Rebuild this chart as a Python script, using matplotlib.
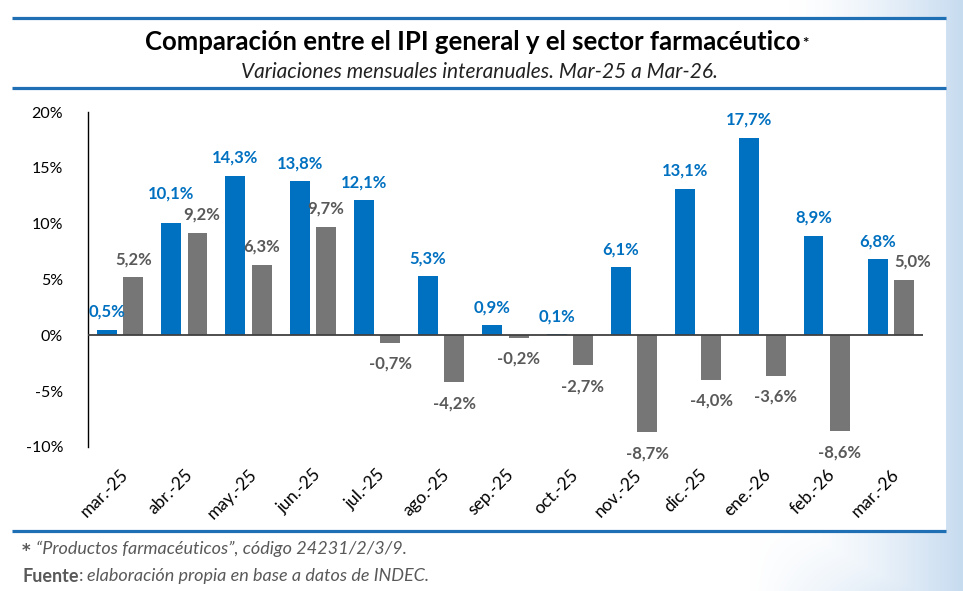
import numpy as np
import matplotlib
matplotlib.use("Agg")
from matplotlib import pyplot as plt
from matplotlib.patches import Rectangle

plt.rcParams['font.family'] = ['Lato', 'DejaVu Sans']

# Datos
meses = ["mar.-25", "abr.-25", "may.-25", "jun.-25", "jul.-25", "ago.-25", "sep.-25",
         "oct.-25", "nov.-25", "dic.-25", "ene.-26", "feb.-26", "mar.-26"]
serie_azul = [0.5, 10.1, 14.3, 13.8, 12.1, 5.3, 0.9, 0.1, 6.1, 13.1, 17.7, 8.9, 6.8]
serie_gris = [5.2, 9.2, 6.3, 9.7, -0.7, -4.2, -0.2, -2.7, -8.7, -4.0, -3.6, -8.6, 5.0]
yticks = [-10, -5, 0, 5, 10, 15, 20]

azul = "#0070C0"
gris = "#767676"
gris_txt = "#595959"
linea = "#1F6FB5"

W, H = 963, 591
fig = plt.figure(figsize=(W / 100, H / 100), dpi=100)

# fondo con tono celeste a la derecha
bg = fig.add_axes([0, 0, 1, 1], zorder=-10)
bg.set_axis_off()
xx = np.linspace(0, 1, 300)
yy = np.linspace(0, 1, 200)
X, Y = np.meshgrid(xx, yy)
t = np.clip((X - 0.82) / 0.18, 0, 1) ** 1.5
t = np.maximum(t, np.clip((X - 0.78) / 0.22, 0, 1) * np.clip((0.12 - Y) / 0.12, 0, 1) * 0.8)
c0 = np.array([1.0, 1.0, 1.0])
c1 = np.array([0.78, 0.86, 0.94])
img = c0 + (c1 - c0) * t[..., None]
bg.imshow(img, extent=[0, 1, 0, 1], origin="lower", aspect="auto")
bg.set_xlim(0, 1)
bg.set_ylim(0, 1)

def fx(px):
    return px / W

def fy(py):
    return 1 - py / H

# panel blanco y líneas
bg.add_patch(Rectangle((fx(12), fy(531)), fx(946) - fx(12), fy(18) - fy(531),
                       facecolor="white", edgecolor="none", zorder=2))
for py in (18, 88, 531):
    bg.plot([fx(12), fx(946)], [fy(py), fy(py)], color=linea, lw=2.3, zorder=3,
            solid_capstyle="butt")

# títulos
titulo = fig.text(fx(473), fy(42), "Comparación entre el IPI general y el sector farmacéutico",
                  ha="center", va="center", fontsize=18.5, fontweight="bold", color="black")
fig.text(fx(479), fy(72), "Variaciones mensuales interanuales. Mar-25 a Mar-26.",
         ha="center", va="center", fontsize=15, style="italic", color="#222222")
fig.canvas.draw()
tb = titulo.get_window_extent()
fig.text(tb.x1 / W + fx(2), fy(44), "*", ha="left", va="center", fontsize=11,
         fontweight="bold", color="black")

# gráfico
ax = fig.add_axes([fx(88), fy(447), fx(923) - fx(88), fy(112) - fy(447)])
ax.set_facecolor("none")
x = np.arange(len(meses))
ancho = 0.31
desp = 0.205
ax.bar(x - desp, serie_azul, width=ancho, color=azul, zorder=2)
ax.bar(x + desp, serie_gris, width=ancho, color=gris, zorder=2)
ax.axhline(0, color="#404040", lw=1.3, zorder=3)

def fmt(v):
    return f"{v:.1f}%".replace(".", ",")

for i, (xi, v) in enumerate(zip(x, serie_azul)):
    dy = 21 if i == 1 else 13
    ax.annotate(fmt(v), (xi - desp, v), xytext=(0, dy), textcoords="offset points",
                ha="center", va="center", fontsize=12, fontweight="bold", color=azul)
for i, (xi, v) in enumerate(zip(x, serie_gris)):
    dx = 6 if i == len(meses) - 1 else (3 if i == 1 else 0)
    dy = 13 if v >= 0 else -15
    ax.annotate(fmt(v), (xi + desp, v), xytext=(dx, dy), textcoords="offset points",
                ha="center", va="center", fontsize=12, fontweight="bold", color=gris_txt)

ax.set_xlim(-0.5, len(meses) - 0.5)
ax.set_ylim(-10, 20)
ax.set_yticks(yticks)
ax.set_yticklabels([f"{v}%" for v in yticks], fontsize=11.5, color="black")
ax.set_xticks(x)
ax.set_xticklabels(meses, rotation=45, ha="right", rotation_mode="anchor",
                   fontsize=12.5, color="black")
ax.tick_params(axis="both", length=0)
ax.tick_params(axis="y", pad=18)
ax.tick_params(axis="x", pad=14)
for s in ("top", "right", "bottom"):
    ax.spines[s].set_visible(False)
ax.spines["left"].set_color("black")
ax.spines["left"].set_linewidth(1.0)

# notas
fig.text(fx(21), fy(549), r"$\bf{*}$", ha="left", va="center", fontsize=12, color=gris_txt)
fig.text(fx(36), fy(549), "“Productos farmacéuticos”, código 24231/2/3/9.",
         ha="left", va="center", fontsize=13, style="italic", color=gris_txt)
t1 = fig.text(fx(22), fy(576), "Fuente", ha="left", va="center", fontsize=13,
              fontweight="bold", color=gris_txt)
fig.canvas.draw()
bb = t1.get_window_extent()
t2 = fig.text(bb.x1 / W, fy(576), ":", ha="left", va="center", fontsize=13, color=gris_txt)
fig.canvas.draw()
bb2 = t2.get_window_extent()
fig.text(bb2.x1 / W + fx(4), fy(576), "elaboración propia en base a datos de INDEC.",
         ha="left", va="center", fontsize=13, style="italic", color=gris_txt)

fig.savefig("out.png", dpi=100)
